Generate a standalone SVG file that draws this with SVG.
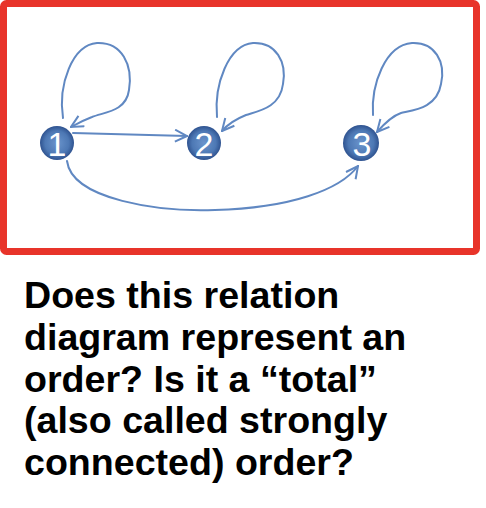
<svg xmlns="http://www.w3.org/2000/svg" width="486" height="508" viewBox="0 0 486 508">
<defs>
<radialGradient id="ng" cx="0.5" cy="0.5" r="0.5">
<stop offset="0" stop-color="#6a94cc"/>
<stop offset="0.7" stop-color="#4d78b4"/>
<stop offset="1" stop-color="#2f5390"/>
</radialGradient>
<marker id="arr" viewBox="0 0 14 14" refX="13" refY="7" markerWidth="14" markerHeight="14" markerUnits="userSpaceOnUse" orient="auto">
<path d="M1,1 L13,7 L1,13" fill="none" stroke="#6088c2" stroke-width="2"/>
</marker>
<style>
.edge{fill:none;stroke:#6088c2;stroke-width:2;stroke-linecap:round}
.node circle{fill:url(#ng)}
.node text{font-family:"Liberation Sans",Arial,sans-serif;font-size:34px;fill:#fff;text-anchor:middle}
.q{font-family:"Liberation Sans",Arial,sans-serif;font-size:37.6px;font-weight:bold;fill:#000}
</style>
</defs>
<rect x="3.5" y="3.5" width="473" height="248" rx="3" fill="#fff" stroke="#e8342a" stroke-width="7"/>
<g id="connectors">
<path class="edge" d="M63,118 C58,85 72,45 97,43 C122,42 133,65 129,90 C126,112 104,112 92,117 C84,120 78,123 71,127" marker-end="url(#arr)"/>
<path class="edge" d="M217,117 C214,85 228,45 253,43 C276,42 287,62 283,84 C280,108 258,111 246,115 C236,119 228,124 222,131" marker-end="url(#arr)"/>
<path class="edge" d="M373,115 C371,85 385,45 412,43 C435,42 446,62 441,84 C437,108 414,110 401,113 C392,116 384,124 377,132" marker-end="url(#arr)"/>
<path class="edge" d="M73,133 L187,136" marker-end="url(#arr)"/>
<path class="edge" d="M67,161 C72,200 160,212 215,210 C290,208 340,190 358,166" marker-end="url(#arr)"/>
</g>
<g id="node1" class="node"><circle cx="57" cy="143" r="17"/><text x="57" y="156">1</text></g>
<g id="node2" class="node"><circle cx="204" cy="143" r="17"/><text x="204" y="156">2</text></g>
<g id="node3" class="node"><circle cx="361" cy="143" r="18"/><text x="362" y="156">3</text></g>
<g id="question">
<text class="q" x="24" y="308">Does this relation</text>
<text class="q" x="24" y="350">diagram represent an</text>
<text class="q" x="24" y="392">order? Is it a “total”</text>
<text class="q" x="24" y="433">(also called strongly</text>
<text class="q" x="24" y="475">connected) order?</text>
</g>
</svg>
